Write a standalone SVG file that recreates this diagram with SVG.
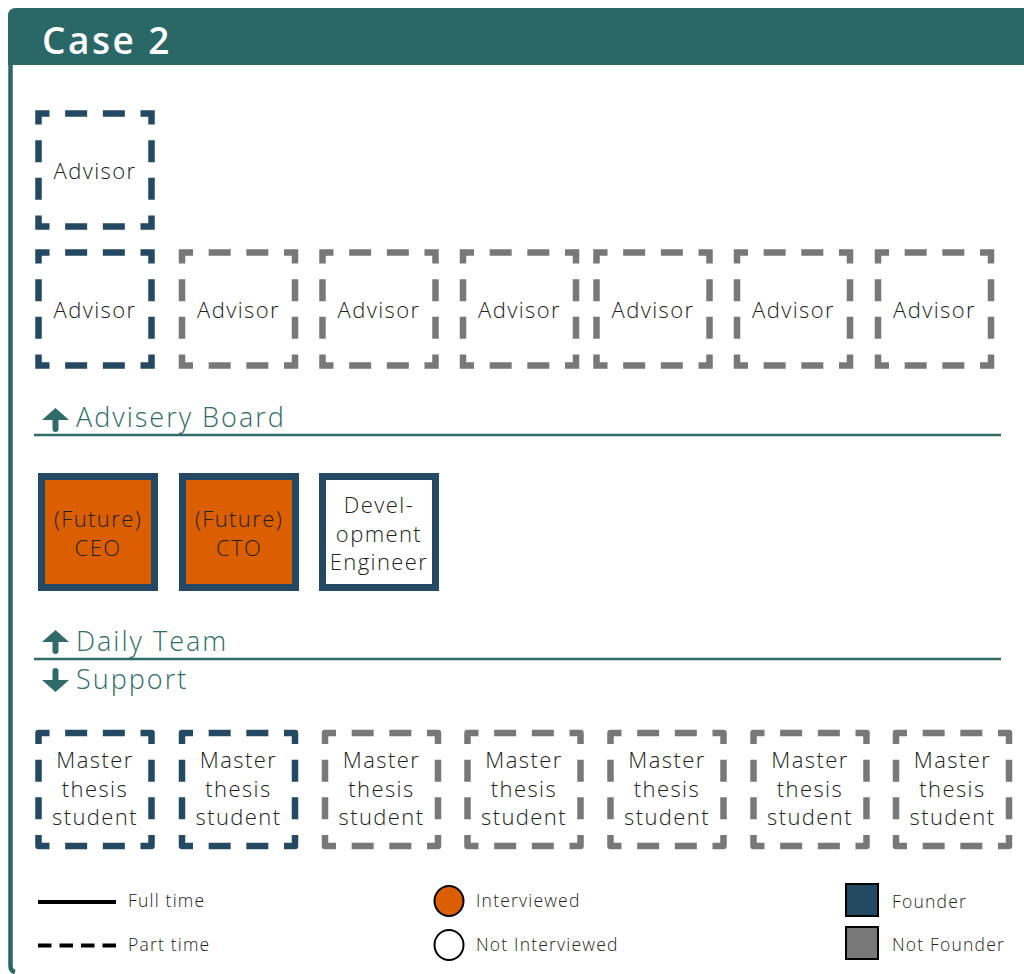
<svg xmlns="http://www.w3.org/2000/svg" width="1024" height="974" viewBox="0 0 1024 974">
  <defs>
    <style>
      .lbl { font-family: "Open Sans", "Liberation Sans", sans-serif; font-size: 22px; font-weight: 350; letter-spacing: 1.4px; fill: #222222; text-anchor: middle; }
      .sec { font-family: "Open Sans", "Liberation Sans", sans-serif; font-size: 27px; font-weight: 350; letter-spacing: 2px; fill: #2e6b69; }
      .leg { font-family: "Open Sans", "Liberation Sans", sans-serif; font-size: 17.5px; font-weight: 350; letter-spacing: 1.2px; fill: #222222; }
      .part { fill: none; stroke-width: 6.5; stroke-dasharray: 22 15.667; stroke-dashoffset: 11; }
      .round { stroke-linejoin: round; }
      .fnd { stroke: #234a62; }
      .nfd { stroke: #787878; }
      .full { stroke: #234a62; stroke-width: 7; }
      .rule { stroke: #2e6b69; stroke-width: 2.5; }
    </style>
    <path id="arrowUp" d="M0,-12 L13.5,0 H3 V9 A3,3 0 0 1 -3,9 V0 H-13.5 Z" fill="#2e6b69"/>
  </defs>

  <rect width="1024" height="974" fill="#ffffff"/>

  <!-- frame and header -->
  <g id="frame">
    <path d="M10.5,60 V966 Q10.5,971 15,972" fill="none" stroke="#2a6767" stroke-width="4.5"/>
    <path d="M8,65 V16 Q8,8 16,8 H1024 V65 Z" fill="#2a6767"/>
    <text x="42" y="54" font-family="'Open Sans', 'Liberation Sans', sans-serif" font-size="37" font-weight="600" letter-spacing="2.5" fill="#ffffff">Case 2</text>
  </g>

  <!-- advisors -->
  <g id="advisor-top"><rect class="part fnd" x="38.5" y="113.5" width="113" height="113"/><text class="lbl" x="95" y="179">Advisor</text></g>
  <g id="advisor-1"><rect class="part fnd" x="38.5" y="252.5" width="113" height="113"/><text class="lbl" x="95" y="318">Advisor</text></g>
  <g id="advisor-2"><rect class="part nfd" x="182" y="252.5" width="113" height="113"/><text class="lbl" x="238.5" y="318">Advisor</text></g>
  <g id="advisor-3"><rect class="part nfd" x="322.5" y="252.5" width="113" height="113"/><text class="lbl" x="379" y="318">Advisor</text></g>
  <g id="advisor-4"><rect class="part nfd" x="463" y="252.5" width="113" height="113"/><text class="lbl" x="519.5" y="318">Advisor</text></g>
  <g id="advisor-5"><rect class="part nfd" x="596.5" y="252.5" width="113" height="113"/><text class="lbl" x="653" y="318">Advisor</text></g>
  <g id="advisor-6"><rect class="part nfd" x="737" y="252.5" width="113" height="113"/><text class="lbl" x="793.5" y="318">Advisor</text></g>
  <g id="advisor-7"><rect class="part nfd" x="878" y="252.5" width="113" height="113"/><text class="lbl" x="934.5" y="318">Advisor</text></g>

  <!-- section dividers -->
  <g id="connectors">
    <line class="rule" x1="34" y1="435" x2="1001" y2="435"/>
    <line class="rule" x1="34" y1="659" x2="1001" y2="659"/>
  </g>
  <g id="sec-advisory">
    <use href="#arrowUp" x="55.5" y="420"/>
    <text class="sec" x="76" y="427">Advisery Board</text>
  </g>
  <g id="sec-daily">
    <use href="#arrowUp" x="55.5" y="642"/>
    <text class="sec" x="76" y="651">Daily Team</text>
  </g>
  <g id="sec-support">
    <use href="#arrowUp" transform="translate(55.5,680) scale(1,-1)"/>
    <text class="sec" x="76" y="689">Support</text>
  </g>

  <!-- daily team -->
  <g id="ceo"><rect class="full" x="41.5" y="476.5" width="113" height="111" fill="#db5e00"/><text class="lbl" x="98" y="527">(Future)</text><text class="lbl" x="98" y="556">CEO</text></g>
  <g id="cto"><rect class="full" x="182.5" y="476.5" width="113" height="111" fill="#db5e00"/><text class="lbl" x="239" y="527">(Future)</text><text class="lbl" x="239" y="556">CTO</text></g>
  <g id="dev-engineer"><rect class="full" x="322.5" y="476.5" width="113" height="111" fill="#ffffff"/><text class="lbl" x="379" y="513">Devel-</text><text class="lbl" x="379" y="542">opment</text><text class="lbl" x="379" y="570">Engineer</text></g>

  <!-- support -->
  <g id="student-1"><rect class="part round fnd" x="38.5" y="733" width="113" height="113"/><text class="lbl" x="95" y="768">Master</text><text class="lbl" x="95" y="797">thesis</text><text class="lbl" x="95" y="825">student</text></g>
  <g id="student-2"><rect class="part round fnd" x="182" y="733" width="113" height="113"/><text class="lbl" x="238.5" y="768">Master</text><text class="lbl" x="238.5" y="797">thesis</text><text class="lbl" x="238.5" y="825">student</text></g>
  <g id="student-3"><rect class="part round nfd" x="325" y="733" width="113" height="113"/><text class="lbl" x="381.5" y="768">Master</text><text class="lbl" x="381.5" y="797">thesis</text><text class="lbl" x="381.5" y="825">student</text></g>
  <g id="student-4"><rect class="part round nfd" x="467.5" y="733" width="113" height="113"/><text class="lbl" x="524" y="768">Master</text><text class="lbl" x="524" y="797">thesis</text><text class="lbl" x="524" y="825">student</text></g>
  <g id="student-5"><rect class="part round nfd" x="610.5" y="733" width="113" height="113"/><text class="lbl" x="667" y="768">Master</text><text class="lbl" x="667" y="797">thesis</text><text class="lbl" x="667" y="825">student</text></g>
  <g id="student-6"><rect class="part round nfd" x="753.5" y="733" width="113" height="113"/><text class="lbl" x="810" y="768">Master</text><text class="lbl" x="810" y="797">thesis</text><text class="lbl" x="810" y="825">student</text></g>
  <g id="student-7"><rect class="part round nfd" x="896" y="733" width="113" height="113"/><text class="lbl" x="952.5" y="768">Master</text><text class="lbl" x="952.5" y="797">thesis</text><text class="lbl" x="952.5" y="825">student</text></g>

  <!-- legend -->
  <g id="legend">
    <line x1="38" y1="902" x2="116" y2="902" stroke="#000000" stroke-width="4"/>
    <text class="leg" x="128" y="907">Full time</text>
    <line x1="38" y1="945.5" x2="116" y2="945.5" stroke="#000000" stroke-width="4" stroke-dasharray="13.5 8"/>
    <text class="leg" x="128" y="951">Part time</text>
    <ellipse cx="449" cy="901" rx="14.5" ry="15" fill="#db5e00" stroke="#000000" stroke-width="2"/>
    <text class="leg" x="476" y="907">Interviewed</text>
    <ellipse cx="449" cy="945" rx="14.5" ry="15" fill="#ffffff" stroke="#000000" stroke-width="2"/>
    <text class="leg" x="476" y="951">Not Interviewed</text>
    <rect x="846" y="884" width="32" height="32" fill="#234a62" stroke="#000000" stroke-width="2"/>
    <text class="leg" x="892" y="908">Founder</text>
    <rect x="846" y="927" width="32" height="32" fill="#787878" stroke="#000000" stroke-width="2"/>
    <text class="leg" x="892" y="951">Not Founder</text>
  </g>
</svg>
